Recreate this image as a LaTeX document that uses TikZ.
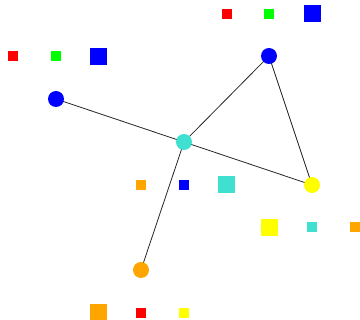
\documentclass[tikz,border=0pt]{standalone}
\usetikzlibrary{backgrounds}
\definecolor{cred}{HTML}{FF0000}
\definecolor{cgreen}{HTML}{00FF00}
\definecolor{cblue}{HTML}{0000FF}
\definecolor{cturq}{HTML}{40E0D0}
\definecolor{cyellow}{HTML}{FFFF00}
\definecolor{corange}{HTML}{FFA500}
\begin{document}
\begin{tikzpicture}[x=1pt,y=-1pt,
  vert/.style={circle,inner sep=0pt,minimum size=16pt,draw=none},
  sq/.style={rectangle,inner sep=0pt,minimum size=10pt,draw=none},
  bigsq/.style={rectangle,inner sep=0pt,minimum size=17pt,draw=none},
  edge/.style={draw=black!85,line width=0.8pt}]
\useasboundingbox (0,0) rectangle (360,320);
% vertices
\node[vert,fill=cblue] (b1) at (56,99) {};
\node[vert,fill=cblue] (b2) at (269,56) {};
\node[vert,fill=cturq] (t) at (184,142) {};
\node[vert,fill=cyellow] (y) at (312,185) {};
\node[vert,fill=corange] (o) at (141,270) {};
% squares
\node[sq,fill=cred] (s1) at (227,14) {};
\node[sq,fill=cgreen] (s2) at (269,14) {};
\node[bigsq,fill=cblue] (s3) at (312.5,13.5) {};
\node[sq,fill=cred] (s4) at (13,56) {};
\node[sq,fill=cgreen] (s5) at (56,56) {};
\node[bigsq,fill=cblue] (s6) at (98.5,56.5) {};
\node[sq,fill=corange] (s7) at (141,185) {};
\node[sq,fill=cblue] (s8) at (184,185) {};
\node[bigsq,fill=cturq] (s9) at (226.5,184.5) {};
\node[bigsq,fill=cyellow] (s10) at (269.5,227.5) {};
\node[sq,fill=cturq] (s11) at (312,227) {};
\node[sq,fill=corange] (s12) at (355,227) {};
\node[bigsq,fill=corange] (s13) at (98.5,312.5) {};
\node[sq,fill=cred] (s14) at (141,313) {};
\node[sq,fill=cyellow] (s15) at (184,313) {};
\begin{pgfonlayer}{background}
\draw[edge] (b1.center) -- (t.center);
\draw[edge] (t.center) -- (b2.center);
\draw[edge] (t.center) -- (y.center);
\draw[edge] (b2.center) -- (y.center);
\draw[edge] (t.center) -- (o.center);
\end{pgfonlayer}
\end{tikzpicture}
\end{document}
